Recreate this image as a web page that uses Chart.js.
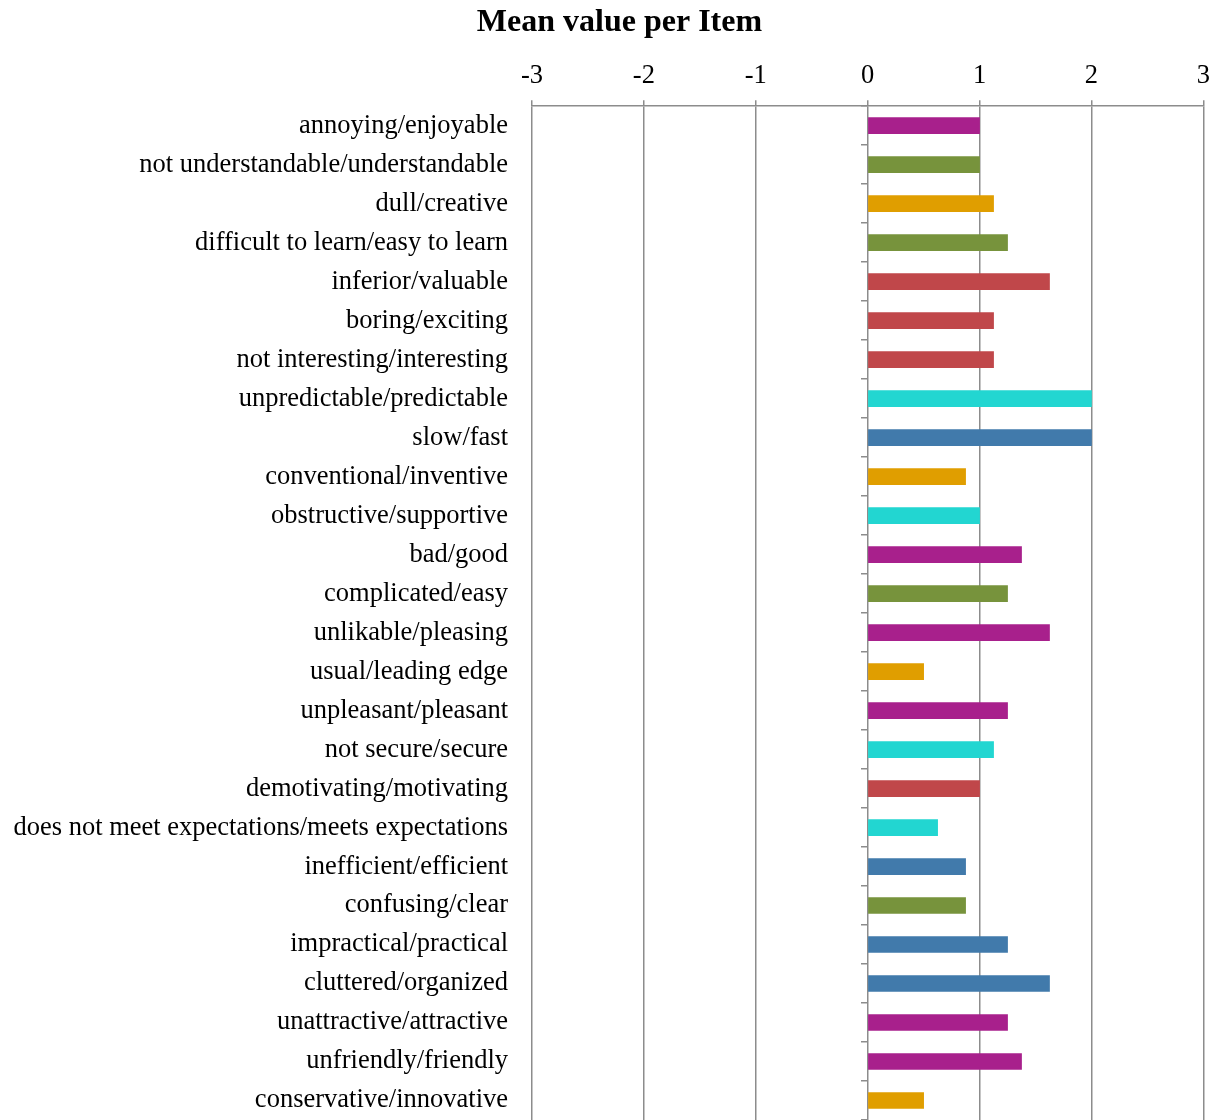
<!DOCTYPE html>
<html>
<head>
<meta charset="utf-8">
<script src="https://cdn.jsdelivr.net/npm/chart.js@4.4.1/dist/chart.umd.min.js"></script>
<style>
  body { margin: 0; background: #fff; }
  #wrap { width: 1218px; height: 1120px; }
</style>
</head>
<body>
<div id="wrap"><canvas id="myCanvas"></canvas></div>
<script>
const items = [
  "annoying/enjoyable", "not understandable/understandable", "dull/creative",
  "difficult to learn/easy to learn", "inferior/valuable", "boring/exciting",
  "not interesting/interesting", "unpredictable/predictable", "slow/fast",
  "conventional/inventive", "obstructive/supportive", "bad/good",
  "complicated/easy", "unlikable/pleasing", "usual/leading edge",
  "unpleasant/pleasant", "not secure/secure", "demotivating/motivating",
  "does not meet expectations/meets expectations", "inefficient/efficient",
  "confusing/clear", "impractical/practical", "cluttered/organized",
  "unattractive/attractive", "unfriendly/friendly", "conservative/innovative"
];

const means = [
  1.0, 1.0, 1.125, 1.25, 1.625, 1.125, 1.125, 2.0, 2.0, 0.875, 1.0, 1.375, 1.25,
  1.625, 0.5, 1.25, 1.125, 1.0, 0.625, 0.875, 0.875, 1.25, 1.625, 1.25, 1.375, 0.5
];

// scale each item belongs to
const scaleOf = [
  "att", "per", "nov", "per", "sti", "sti", "sti", "dep", "eff", "nov", "dep", "att", "per",
  "att", "nov", "att", "dep", "sti", "dep", "eff", "per", "eff", "eff", "att", "att", "nov"
];

const xTicks = [-3, -2, -1, 0, 1, 2, 3];

const scaleColors = {
  att: "#a8208c",
  per: "#77933c",
  nov: "#e09e00",
  sti: "#c0474a",
  dep: "#22d6d1",
  eff: "#417aab"
};

const gridGray = "#8c8c8c";
const serif = "'Liberation Serif', 'Times New Roman', serif";

// let the long item labels run into the left padding instead of being clipped
const unclipLabels = {
  id: 'unclipLabels',
  afterLayout: chart => { chart.scales.y.left = 0; }
};

const ctx = document.getElementById('myCanvas').getContext('2d');
new Chart(ctx, {
  type: 'bar',
  data: {
    labels: items,
    datasets: [{
      data: means,
      backgroundColor: scaleOf.map(s => scaleColors[s]),
      barThickness: 16
    }]
  },
  plugins: [unclipLabels],
  options: {
    indexAxis: 'y',
    responsive: true,
    maintainAspectRatio: false,
    animation: false,
    layout: { padding: { left: 30, right: 9, top: 0, bottom: 0 } },
    plugins: {
      legend: { display: false },
      tooltip: { enabled: false },
      title: {
        display: true,
        text: 'Mean value per Item',
        color: '#000',
        font: { family: serif, size: 32, weight: 'bold' },
        padding: { top: 4, bottom: 10 }
      }
    },
    scales: {
      x: {
        position: 'top',
        min: -3,
        max: 3,
        afterBuildTicks: axis => { axis.ticks = xTicks.map(v => ({ value: v })); },
        ticks: {
          color: '#000',
          font: { family: serif, size: 26.5 },
          padding: 8
        },
        grid: { color: gridGray, lineWidth: 1.5, tickLength: 6 },
        border: { color: gridGray, width: 1.5 }
      },
      y: {
        afterFit: scale => {
          scale.width = 502;
          scale.paddingTop = 0;
          scale.paddingBottom = 0;
        },
        ticks: {
          color: '#000',
          font: { family: serif, size: 26.5 },
          padding: 0
        },
        grid: { display: false, drawTicks: true, tickLength: 24 },
        border: { display: false }
      },
      yTicks: {
        type: 'category',
        position: { x: 0 },
        offset: true,
        ticks: { display: false },
        grid: {
          offset: true,
          drawOnChartArea: false,
          drawTicks: true,
          tickLength: 7,
          color: gridGray,
          lineWidth: 1.5
        },
        border: { display: false }
      }
    }
  }
});
</script>
</body>
</html>
